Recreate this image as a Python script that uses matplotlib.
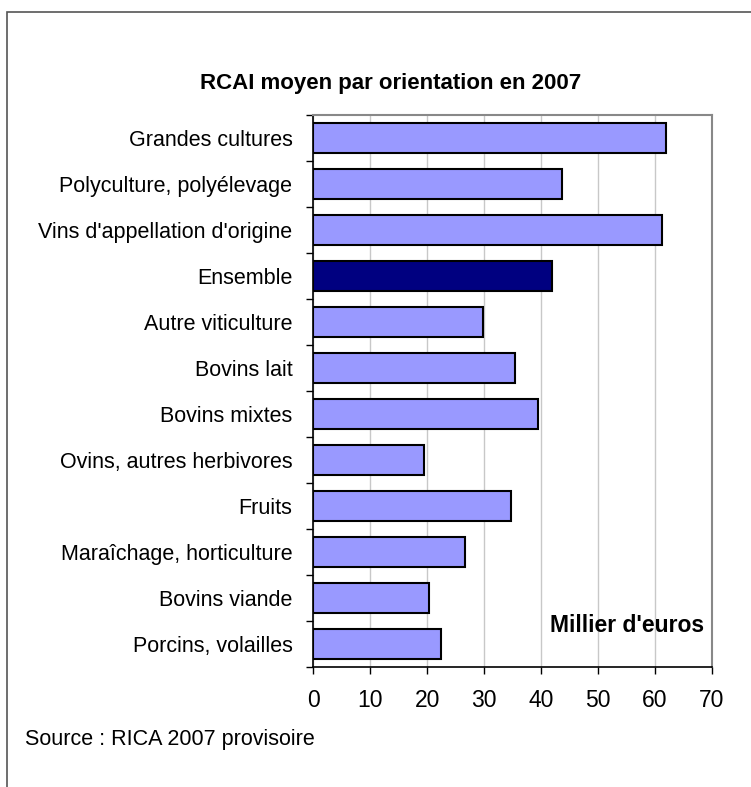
import numpy as np
import matplotlib.pyplot as plt
from matplotlib.patches import Rectangle

plt.rcParams['font.family'] = ['Liberation Sans', 'DejaVu Sans']

# RCAI moyen par orientation (milliers d'euros)
orientations = ['Grandes cultures', 'Polyculture, polyélevage', "Vins d'appellation d'origine",
                'Ensemble', 'Autre viticulture', 'Bovins lait', 'Bovins mixtes',
                'Ovins, autres herbivores', 'Fruits', 'Maraîchage, horticulture',
                'Bovins viande', 'Porcins, volailles']
rcai = [61.9, 43.7, 61.2, 41.9, 29.9, 35.5, 39.4, 19.4, 34.8, 26.7, 20.4, 22.5]
xticks = [0, 10, 20, 30, 40, 50, 60, 70]

couleurs = ['#000080' if o == 'Ensemble' else '#9999FF' for o in orientations]

fig = plt.figure(figsize=(7.51, 7.87), dpi=100)
# cadre extérieur
fig.patches.append(Rectangle((7 / 751, -0.1), 1.2, 1.1 - 12 / 787, transform=fig.transFigure,
                             fill=False, edgecolor='#555555', linewidth=1.2))

ax = fig.add_axes([313.3 / 751, 120.3 / 787, 398.4 / 751, 552 / 787])
y = np.arange(len(orientations))
ax.barh(y, rcai, height=0.65, color=couleurs, edgecolor='black', linewidth=1.5, zorder=3)

ax.set_xlim(0, 70)
ax.set_ylim(len(orientations) - 0.5, -0.5)
ax.set_xticks(xticks)
ax.set_xticklabels([str(t) for t in xticks], fontsize=16.5)
ax.set_yticks(y)
ax.set_yticklabels(orientations, fontsize=15.5)
ax.set_yticks(np.arange(-0.5, len(orientations)), minor=True)
ax.tick_params(axis='y', which='major', length=0, pad=15)
ax.tick_params(axis='y', which='minor', length=5, width=1, direction='out')
ax.tick_params(axis='x', length=5, width=1, direction='out', pad=11)
ax.grid(axis='x', color='#c8c8c8', linewidth=1, zorder=0)

for s in ['top', 'right']:
    ax.spines[s].set_color('#888888')
    ax.spines[s].set_linewidth(1.5)
for s in ['left', 'bottom']:
    ax.spines[s].set_color('black')
    ax.spines[s].set_linewidth(1.2)

ax.text(0.982, 0.075, "Millier d'euros", transform=ax.transAxes, ha='right', va='center',
        fontsize=16.5, fontweight='bold')

fig.text(391 / 751, 1 - 84 / 787, 'RCAI moyen par orientation en 2007', ha='center', va='center',
         fontsize=16, fontweight='bold')
fig.text(25 / 751, 1 - 739 / 787, 'Source : RICA 2007 provisoire', ha='left', va='center', fontsize=15.5)

fig.savefig('out.png', dpi=100)
